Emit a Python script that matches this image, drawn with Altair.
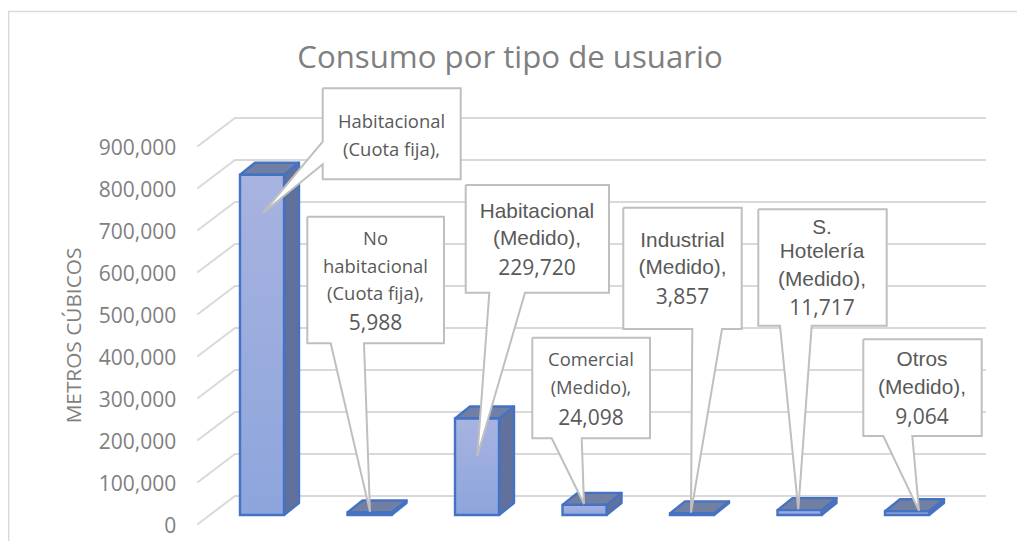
import altair as alt
import pandas as pd

# ---- chart values -------------------------------------------------------
NAMES = [
    ["Habitacional", "(Cuota fija),"],
    ["No", "habitacional", "(Cuota fija),"],
    ["Habitacional", "(Medido),"],
    ["Comercial", "(Medido),"],
    ["Industrial", "(Medido),"],
    ["S.", "Hotelería", "(Medido),"],
    ["Otros", "(Medido),"],
]
VALUES = [810000, 5988, 229720, 24098, 3857, 11717, 9064]
SHOW_VALUE = [False, True, True, True, True, True, True]
TICKS = [0, 100000, 200000, 300000, 400000, 500000, 600000, 700000, 800000, 900000]
TITLE = "Consumo por tipo de usuario"
Y_TITLE = "METROS CÚBICOS"

# ---- callout layout, page pixels: box l,t,r,b, pointer base a,b, tip x,y, side
BOXES = [
    (322.7, 88.3, 460.7, 179.3, 141.7, 164.3, 263, 213, "left"),
    (307.3, 216.7, 444, 343.3, 330.7, 364, 370, 511.7, "bottom"),
    (465.7, 185, 609, 292.7, 489.3, 525, 477.3, 456, "bottom"),
    (532.3, 337.7, 650, 438.3, 551.7, 581.7, 584, 504, "bottom"),
    (623.3, 207.7, 741.7, 329, 692.3, 722, 691, 512.7, "bottom"),
    (758.3, 209.3, 886.7, 325.7, 780, 811.7, 798.3, 509.3, "bottom"),
    (863.3, 339.3, 981.7, 436, 883.3, 912.3, 919, 510.7, "bottom"),
]
TEXT_X = [391.5, 375.5, 537, 591, 682.5, 822, 922]
TEXT_Y = [
    [121.7, 150],
    [239.3, 266.7, 294, 323.5],
    [211.7, 239, 268.5],
    [360.3, 388.3, 418.8],
    [241, 268.3, 298.2],
    [228.3, 252, 280, 308.8],
    [360.3, 387.7, 418.2],
]
SEGOE_LIKE = [True, True, False, True, False, False, False]

# ---- scales -------------------------------------------------------------
W, H = 1009, 533
PXV = 0.00042            # pixels per cubic metre
Y0 = 523.5               # page y of value 0 on the axis plane
X0, SLOT = 240.0, 107.5  # page x of first bar, pixels per category


def xs(p):
    return (p - X0) / SLOT


def ys(p):
    return (Y0 - p) / PXV


x_scale = alt.Scale(domain=[xs(8), xs(8 + W)], nice=False, zero=False)
y_scale = alt.Scale(domain=[ys(8 + H), ys(8)], nice=False, zero=False)
AXIS = alt.Axis(
    values=TICKS, format=",.0f", offset=-(175.7 - 8), labelPadding=0, labelOffset=3,
    domain=False, ticks=False, grid=False,
    labelFont="Open Sans", labelFontSize=21, labelColor="#7f7f7f",
    title=Y_TITLE, titleFont="Open Sans", titleFontSize=20.8,
    titleFontWeight="normal", titleColor="#7f7f7f",
    titleX=74 - 175.7, titleY=335 - 8, titleAngle=-90,
    titleAlign="center", titleBaseline="middle",
)
X = alt.X("x:Q", scale=x_scale, axis=None)
Y = alt.Y("y:Q", scale=y_scale, axis=AXIS)

# ---- derived tables -----------------------------------------------------
BAR_W, DEPTH_X, DEPTH_Y, FLOOR = 44, 15, 12, 515
grid, side, top, front, call, text = [], [], [], [], [], []

for t in TICKS:
    y = Y0 - t * PXV
    for k, (px, py) in enumerate([(197.3, y + 1), (235, y - 27.5), (986, y - 27.5)]):
        grid.append(dict(g=t, o=k, x=xs(px), y=ys(py)))

for i, v in enumerate(VALUES):
    x0 = X0 + i * SLOT
    x1 = x0 + BAR_W
    ytop = FLOOR - v * PXV
    front.append(dict(x=xs(x0), x2=xs(x1), y=ys(FLOOR), y2=ys(ytop)))
    pts = [(x1, FLOOR), (x1 + DEPTH_X, FLOOR - DEPTH_Y), (x1 + DEPTH_X, ytop - DEPTH_Y), (x1, ytop), (x1, FLOOR)]
    side += [dict(g=i, o=k, x=xs(a), y=ys(b)) for k, (a, b) in enumerate(pts)]
    pts = [(x0, ytop), (x0 + DEPTH_X, ytop - DEPTH_Y), (x1 + DEPTH_X, ytop - DEPTH_Y), (x1, ytop), (x0, ytop)]
    top += [dict(g=i, o=k, x=xs(a), y=ys(b)) for k, (a, b) in enumerate(pts)]

for i, (l, t, r, b, a1, a2, tx, ty, where) in enumerate(BOXES):
    if where == "left":
        pts = [(l, t), (r, t), (r, b), (l, b), (l, a2), (tx, ty), (l, a1), (l, t)]
    else:
        pts = [(l, t), (r, t), (r, b), (a2, b), (tx, ty), (a1, b), (l, b), (l, t)]
    call += [dict(g=i, o=k, x=xs(a), y=ys(c)) for k, (a, c) in enumerate(pts)]
    for s, py in zip(NAMES[i], TEXT_Y[i]):
        text.append(dict(x=xs(TEXT_X[i]), y=ys(py), s=s, f="seg" if SEGOE_LIKE[i] else "ari"))
    if SHOW_VALUE[i]:
        text.append(dict(x=xs(TEXT_X[i]), y=ys(TEXT_Y[i][-1]), s=f"{VALUES[i]:,}", f="num"))

border = [dict(g=0, o=k, x=xs(a), y=ys(b)) for k, (a, b) in enumerate([(8.6, 541), (8.6, 11.5), (1017, 11.5)])]


def poly(rows, fill, stroke, width, join="round"):
    return alt.Chart(pd.DataFrame(rows)).mark_line(
        fill=fill, stroke=stroke, strokeWidth=width, strokeJoin=join
    ).encode(x=X, y=Y, detail="g:N", order="o:Q")


def path(rows, stroke, width):
    return alt.Chart(pd.DataFrame(rows)).mark_line(
        stroke=stroke, strokeWidth=width, strokeJoin="miter"
    ).encode(x=X, y=Y, detail="g:N", order="o:Q")


front_fill = alt.Gradient(
    gradient="linear", x1=0, x2=0, y1=0, y2=1,
    stops=[alt.GradientStop(color="#a8b3e0", offset=0), alt.GradientStop(color="#8da5dc", offset=1)],
)
front_layer = alt.Chart(pd.DataFrame(front)).mark_rect(
    fill=front_fill, stroke="#4472c4", strokeWidth=2.4
).encode(x=X, x2="x2:Q", y=Y, y2="y2:Q")


def label_layer(rows, font, size):
    return alt.Chart(pd.DataFrame(rows)).mark_text(
        font=font, fontSize=size, color="#595959", align="center", baseline="middle"
    ).encode(x=X, y=Y, text="s:N")


title_layer = alt.Chart(pd.DataFrame([dict(x=xs(510), y=ys(67.7), s=TITLE)])).mark_text(
    font="Open Sans", fontSize=31.2, color="#7f7f7f", align="center", baseline="alphabetic"
).encode(x=X, y=Y, text="s:N")

chart = alt.layer(
    path(border, "#d9d9d9", 1.6),
    path(grid, "#d9d9d9", 2),
    title_layer,
    poly(side, "#62709c", "#4472c4", 2.4),
    poly(top, "#717fa3", "#4472c4", 2.4),
    front_layer,
    poly(call, "#ffffff", "#bfbfbf", 2, "miter"),
    label_layer([r for r in text if r["f"] == "seg"], "Open Sans", 18.4),
    label_layer([r for r in text if r["f"] == "ari"], "Liberation Sans", 20.8),
    label_layer([r for r in text if r["f"] == "num"], "Open Sans", 21),
).properties(
    width=W,
    height=H,
    padding=0,
    autosize=alt.AutoSizeParams(type="none"),
    background="#ffffff",
).configure_view(stroke=None)

chart.save("out.html", embed_options={"renderer": "svg", "actions": False})
